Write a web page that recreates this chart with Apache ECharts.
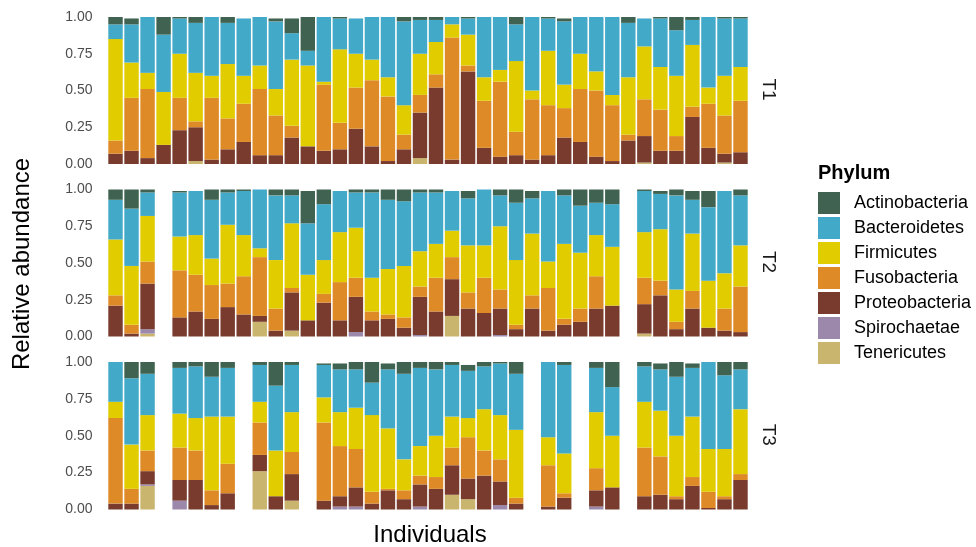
<!DOCTYPE html>
<html>
<head>
<meta charset="utf-8">
<script src="https://cdn.jsdelivr.net/npm/echarts@6/dist/echarts.min.js"></script>
<style>
  html, body { margin: 0; padding: 0; background: #ffffff; }
  #chart { width: 976px; height: 547px; }
</style>
</head>
<body>
<div id="chart"></div>
<script>
// Relative abundance (%) of each phylum per individual, for the three time points.
// null = individual not sampled at that time point.
const individuals = Array.from({ length: 40 }, (_, i) => 'ID' + String(i + 1).padStart(2, '0'));
const yTicks = [0, 25, 50, 75, 100];

// ---- T1 ----
const t1Tenericutes    = [0,0,0,0,0,2,0,0,0,0,0,0,0,0,0,0,0,0,0,4, 0,0,0,0,0,0,0,0,0,0,0,0,0,1,0,0,0,0,1,0];
const t1Spirochaetae   = [0,0,0,0,0,0,0,0,0,0,0,0,0,0,0,0,0,0,0,0, 0,0,0,0,0,0,0,0,0,0,0,0,0,0,0,0,0,0,0,0];
const t1Proteobacteria = [7,9,4,13,23,23,3,10,15,6,6,18,12,9,10,24,12,2,10,31, 52,3,63,11,5,6,3,6,18,15,5,2,16,18,9,9,32,11,6,8];
const t1Fusobacteria   = [9,36,47,0,22,4,42,21,26,45,27,8,0,45,18,28,45,44,10,12, 9,83,4,32,51,16,41,34,20,36,45,38,4,25,28,10,7,30,26,35];
const t1Firmicutes     = [69,24,11,36,30,33,15,37,19,16,18,45,55,2,50,23,14,13,20,28, 22,9,21,16,8,48,6,37,16,24,13,7,39,36,29,41,42,11,27,23];
const t1Bacteroidetes  = [10,26,38,39,24,34,40,28,39,33,46,18,10,44,21,24,29,41,57,23, 15,5,11,41,36,25,50,22,43,25,37,53,37,19,33,31,17,48,39,33];
const t1Actinobacteria = [5,4,0,12,1,4,0,4,0,0,2,10,23,0,1,0,0,0,3,2, 2,0,1,0,0,5,0,1,2,0,0,0,4,0,1,9,2,0,1,1];

// ---- T2 ----
const t2Tenericutes    = [0,0,2,null,0,0,0,0,0,10,0,4,0,0,0,0,0,0,0,0, 0,14,0,0,0,0,0,0,0,0,0,0,null,2,0,0,0,0,0,0];
const t2Spirochaetae   = [0,0,3,null,0,0,0,0,0,0,0,0,0,0,0,3,0,0,0,1, 0,0,0,0,1,0,0,0,0,0,0,0,null,0,0,0,0,0,0,0];
const t2Proteobacteria = [21,2,31,null,13,17,12,20,15,4,4,26,11,23,11,24,11,12,6,26, 17,25,19,16,18,5,19,4,8,10,19,21,null,20,28,5,19,6,4,3];
const t2Fusobacteria   = [7,6,15,null,32,25,23,16,26,40,15,3,0,6,26,13,6,3,7,7, 23,15,11,24,13,3,9,29,4,9,22,0,null,18,10,5,12,0,15,31];
const t2Firmicutes     = [38,40,31,null,23,27,18,40,28,6,33,44,31,23,34,34,23,31,35,24, 23,18,32,22,43,44,42,18,51,38,28,40,null,31,35,22,39,32,24,28];
const t2Bacteroidetes  = [27,39,16,null,30,30,40,22,30,40,44,19,35,38,28,24,58,47,44,40, 35,27,32,38,21,39,24,48,33,32,22,29,null,28,24,64,23,50,56,34];
const t2Actinobacteria = [7,13,2,null,1,0,7,2,1,0,4,4,22,10,0,2,2,7,8,2, 2,0,5,0,4,9,5,0,4,11,9,10,null,1,2,4,6,11,0,4];

// ---- T3 ----
const t3Tenericutes    = [0,0,16,null,0,0,0,0,null,26,0,6,null,0,0,0,0,0,0,0, 0,10,7,0,0,0,null,0,0,null,0,0,null,0,0,0,0,0,0,0];
const t3Spirochaetae   = [0,0,1,null,6,0,0,0,null,0,0,0,null,0,2,2,0,0,0,2, 0,0,0,0,3,0,null,0,0,null,2,0,null,0,0,0,0,0,0,0];
const t3Proteobacteria = [4,4,9,null,14,20,3,11,null,11,9,18,null,6,7,13,4,13,7,15, 14,20,14,23,16,4,null,2,8,null,11,15,null,9,10,7,16,1,7,20];
const t3Fusobacteria   = [58,10,14,null,22,20,10,20,null,22,0,15,null,53,34,26,8,1,6,6, 8,12,28,17,15,4,null,28,3,null,15,0,null,33,26,2,6,11,2,4];
const t3Firmicutes     = [11,30,24,null,23,22,50,32,null,14,31,27,null,17,23,28,52,41,21,20, 28,21,13,28,30,46,null,19,27,null,38,35,null,31,31,41,41,29,32,44];
const t3Bacteroidetes  = [27,45,28,null,31,35,27,33,null,25,44,32,null,22,29,26,22,40,58,53, 45,35,32,29,35,38,null,51,60,null,30,33,null,24,28,40,33,59,50,27];
const t3Actinobacteria = [0,11,8,null,4,3,10,4,null,2,16,2,null,1,4,5,14,4,8,4, 5,2,4,3,1,8,null,0,2,null,4,17,null,3,4,10,3,0,9,5];

// Stacking order, bottom to top, and legend order, top to bottom.
const phyla = ['Tenericutes', 'Spirochaetae', 'Proteobacteria', 'Fusobacteria', 'Firmicutes', 'Bacteroidetes', 'Actinobacteria'];
const legendOrder = phyla.slice().reverse();
const phylumColors = {
  Actinobacteria: '#3f6350',
  Bacteroidetes:  '#43a9c9',
  Firmicutes:     '#e1cc00',
  Fusobacteria:   '#de8a26',
  Proteobacteria: '#783b2d',
  Spirochaetae:   '#9b88ab',
  Tenericutes:    '#cab56f'
};

const panels = [
  { name: 'T1', values: [t1Tenericutes, t1Spirochaetae, t1Proteobacteria, t1Fusobacteria, t1Firmicutes, t1Bacteroidetes, t1Actinobacteria] },
  { name: 'T2', values: [t2Tenericutes, t2Spirochaetae, t2Proteobacteria, t2Fusobacteria, t2Firmicutes, t2Bacteroidetes, t2Actinobacteria] },
  { name: 'T3', values: [t3Tenericutes, t3Spirochaetae, t3Proteobacteria, t3Fusobacteria, t3Firmicutes, t3Bacteroidetes, t3Actinobacteria] }
];

const FONT = '"Liberation Sans", Arial, Helvetica, sans-serif';
const gridLeft = 107.5, gridWidth = 641;
const panelBoxes = [
  { top: 17,    height: 147 },
  { top: 189.5, height: 147 },
  { top: 362,   height: 147.5 }
];

const grids = [], xAxes = [], yAxes = [], series = [], graphics = [];
panels.forEach((panel, p) => {
  const box = panelBoxes[p];
  grids.push({ left: gridLeft, width: gridWidth, top: box.top, height: box.height, containLabel: false });
  xAxes.push({
    type: 'category', gridIndex: p, data: individuals,
    axisLine: { show: false }, axisTick: { show: false }, axisLabel: { show: false }, splitLine: { show: false }
  });
  yAxes.push({
    type: 'value', gridIndex: p, min: yTicks[0], max: yTicks[yTicks.length - 1], interval: 25,
    axisLine: { show: false }, axisTick: { show: false }, splitLine: { show: false },
    axisLabel: {
      margin: 15, color: '#4d4d4d', fontSize: 14, fontFamily: FONT,
      formatter: v => (v / 100).toFixed(2)
    }
  });
  phyla.forEach((ph, k) => {
    series.push({
      type: 'bar', name: ph, stack: panel.name,
      xAxisIndex: p, yAxisIndex: p,
      data: panel.values[k],
      barCategoryGap: '10%',
      itemStyle: { color: phylumColors[ph] },
      emphasis: { disabled: true },
      silent: true
    });
  });
  // facet strip label on the right
  graphics.push({
    type: 'text', x: 768.5, y: box.top + box.height / 2 - 1, rotation: -Math.PI / 2,
    style: { text: panel.name, fill: '#1a1a1a', font: '19px ' + FONT, textAlign: 'center', textVerticalAlign: 'middle' }
  });
});

// axis titles and legend title
graphics.push({
  type: 'text', x: 22, y: 264, rotation: Math.PI / 2,
  style: { text: 'Relative abundance', fill: '#000000', font: '24px ' + FONT, textAlign: 'center', textVerticalAlign: 'middle' }
});
graphics.push({
  type: 'text', x: 430, y: 535,
  style: { text: 'Individuals', fill: '#000000', font: '24px ' + FONT, textAlign: 'center', textVerticalAlign: 'middle' }
});
graphics.push({
  type: 'text', x: 818, y: 173,
  style: { text: 'Phylum', fill: '#000000', font: 'bold 20px ' + FONT, textAlign: 'left', textVerticalAlign: 'middle' }
});

const chart = echarts.init(document.getElementById('chart'), null, { renderer: 'canvas' });
chart.setOption({
  animation: false,
  backgroundColor: '#ffffff',
  grid: grids,
  xAxis: xAxes,
  yAxis: yAxes,
  series: series,
  legend: {
    data: legendOrder,
    orient: 'vertical',
    left: 818, top: 192,
    padding: 0,
    icon: 'rect',
    itemWidth: 22, itemHeight: 22, itemGap: 3,
    selectedMode: false,
    textStyle: { fontSize: 18, color: '#000000', fontFamily: FONT, padding: [0, 0, 0, 9] }
  },
  graphic: graphics
});
</script>
</body>
</html>
